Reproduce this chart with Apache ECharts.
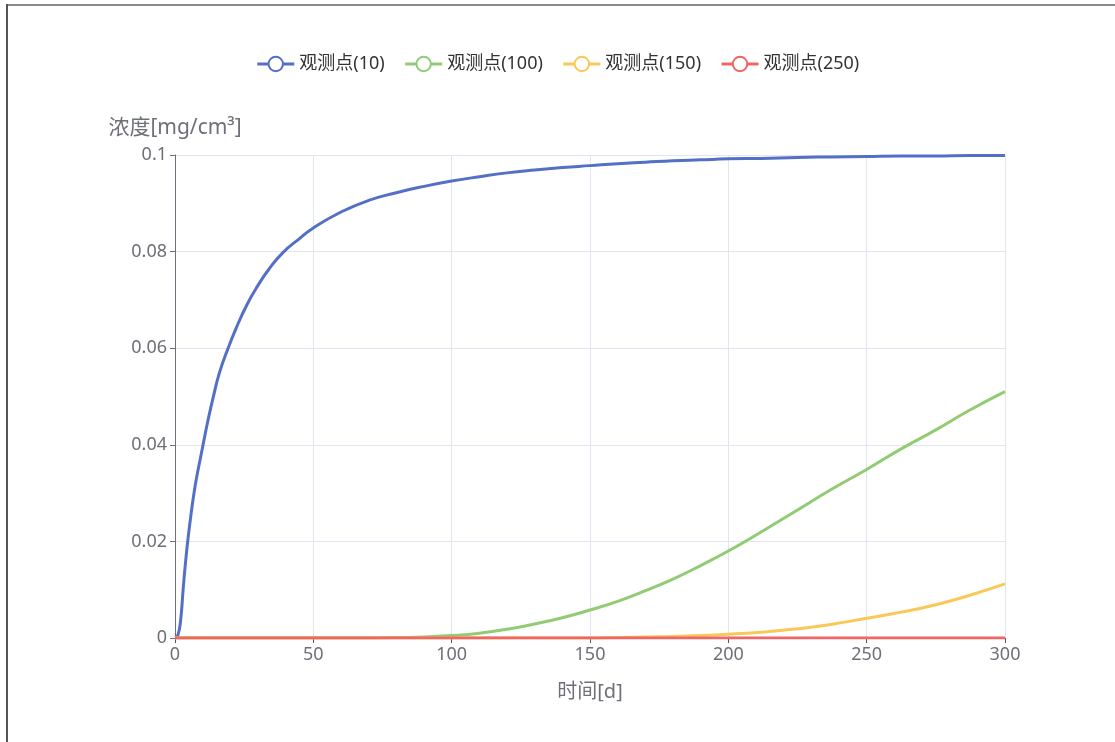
<!DOCTYPE html>
<html>
<head>
<meta charset="utf-8">
<script src="https://cdn.jsdelivr.net/npm/echarts@6/dist/echarts.min.js"></script>
<style>
html,body{margin:0;padding:0;background:#fff;}
#chart{position:absolute;left:0;top:0;width:1115px;height:742px;}
#frameTop{position:absolute;left:6px;top:4px;width:1109px;height:2px;background:#8a8a8a;}
#frameLeft{position:absolute;left:6px;top:4px;width:2px;height:738px;background:#555;}
</style>
</head>
<body>
<div id="chart"></div>
<div id="frameTop"></div>
<div id="frameLeft"></div>
<script>
const seriesNames = ['观测点(10)', '观测点(100)', '观测点(150)', '观测点(250)'];
const days = [0,1,2,3,4,5,6,7,8,9,10,12,14,16,19,22,26,30,34,39,45,50,60,70,80,90,100,110,120,130,140,150,160,170,180,190,200,212,225,237,250,262,275,287,300];
const obs10 = [0,0.0005,0.0035,0.0105,0.0168,0.022,0.0265,0.0305,0.0338,0.0367,0.0396,0.0453,0.0503,0.0548,0.0597,0.064,0.069,0.073,0.0764,0.0798,0.0827,0.0849,0.0882,0.0906,0.0922,0.0935,0.0946,0.0955,0.0963,0.0969,0.0974,0.0978,0.0982,0.0985,0.0988,0.099,0.0992,0.0993,0.0995,0.0996,0.0997,0.0998,0.0998,0.0999,0.0999];
const obs100 = [0,0,0,0,0,0,0,0,0,0,0,0,0,0,0,0,0,0,0,0,0,0,0,0,0.0001,0.0002,0.0005,0.001,0.0018,0.0029,0.0042,0.0058,0.0076,0.0098,0.0122,0.015,0.018,0.022,0.0265,0.0307,0.0349,0.039,0.0431,0.0471,0.051];
const obs150 = [0,0,0,0,0,0,0,0,0,0,0,0,0,0,0,0,0,0,0,0,0,0,0,0,0,0,0,0,0,0,0,0,0.0001,0.0002,0.0003,0.0005,0.0008,0.0012,0.0019,0.0028,0.0041,0.0053,0.0069,0.0088,0.0112];
const obs250 = [0,0,0,0,0,0,0,0,0,0,0,0,0,0,0,0,0,0,0,0,0,0,0,0,0,0,0,0,0,0,0,0,0,0,0,0,0,0,0,0,0,0,0,0,0];
const colors = ['#5470c6', '#91cc75', '#fac858', '#ee6666'];

const allValues = [obs10, obs100, obs150, obs250];
const FONT = '"Noto Sans", "Noto Sans CJK SC", sans-serif';

const chart = echarts.init(document.getElementById('chart'));
chart.setOption({
  animation: false,
  color: colors,
  textStyle: { fontFamily: FONT },
  legend: {
    top: 50,
    left: 'center',
    itemWidth: 37,
    itemHeight: 18,
    itemGap: 19,
    lineStyle: { width: 3 },
    itemStyle: { borderWidth: 3 },
    textStyle: { fontSize: 18, color: '#333', fontFamily: FONT },
    data: seriesNames
  },
  grid: { left: 175, right: 110, top: 155, bottom: 104 },
  xAxis: {
    type: 'value',
    min: 0, max: 300, interval: 50,
    name: '时间[d]',
    nameLocation: 'middle',
    nameGap: 44,
    nameTextStyle: { fontSize: 20, color: '#6E7079', fontFamily: FONT },
    axisLabel: { fontSize: 18, color: '#6E7079', fontFamily: FONT },
    axisTick: { length: 5 },
    splitLine: { show: true, lineStyle: { color: '#E0E6F1' } }
  },
  yAxis: {
    type: 'value',
    min: 0, max: 0.1, interval: 0.02,
    name: '浓度[mg/cm³]',
    nameGap: 16,
    nameTextStyle: { fontSize: 21, color: '#6E7079', fontFamily: FONT },
    axisLine: { show: true, lineStyle: { color: '#6E7079' } },
    axisTick: { show: true, length: 5 },
    axisLabel: { fontSize: 18, color: '#6E7079', fontFamily: FONT },
    splitLine: { show: true, lineStyle: { color: '#E0E6F1' } }
  },
  series: seriesNames.map((name, i) => ({
    name: name,
    type: 'line',
    showSymbol: false,
    symbol: 'emptyCircle',
    smooth: 0.5,
    lineStyle: { width: 3 },
    data: days.map((d, j) => [d, allValues[i][j]])
  }))
});
</script>
</body>
</html>
